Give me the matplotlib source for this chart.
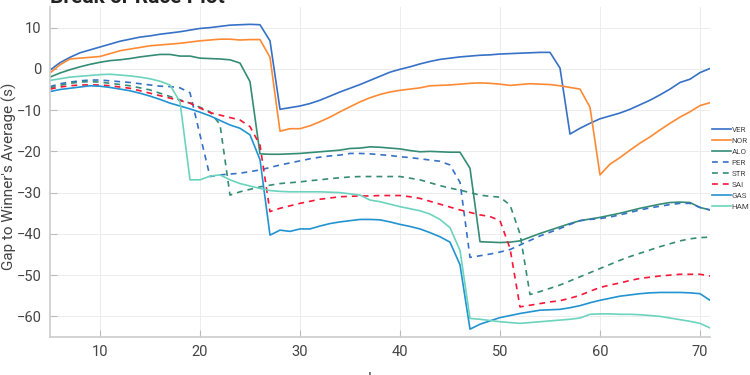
import matplotlib
matplotlib.use("Agg")
import matplotlib.pyplot as plt
import numpy as np

laps = list(range(5, 72))

VER = [-0.3, 1.5, 2.8, 3.9, 4.6, 5.3, 6.0, 6.7, 7.2, 7.7, 8.0, 8.4, 8.7, 9.0, 9.4, 9.8, 10.0, 10.3, 10.6, 10.7,
       10.8, 10.7, 6.8, -9.8, -9.4, -9.0, -8.4, -7.6, -6.6, -5.6, -4.7, -3.8, -2.8, -1.8, -0.8, -0.1, 0.5, 1.2,
       1.8, 2.3, 2.6, 2.9, 3.1, 3.3, 3.4, 3.6, 3.7, 3.8, 3.9, 4.0, 4.0, 0.2, -15.8, -14.4, -13.2, -12.1, -11.4,
       -10.7, -9.8, -8.7, -7.6, -6.3, -4.9, -3.3, -2.5, -0.9, 0.1]
NOR = [-1.0, 1.0, 2.4, 2.6, 2.8, 3.0, 3.7, 4.4, 4.8, 5.2, 5.6, 5.8, 6.0, 6.2, 6.5, 6.8, 7.0, 7.2, 7.2, 7.0,
       7.1, 7.1, 2.8, -15.1, -14.5, -14.5, -13.8, -12.8, -11.7, -10.4, -9.2, -8.0, -7.0, -6.2, -5.6, -5.2, -4.9,
       -4.6, -4.1, -4.0, -3.9, -3.7, -3.5, -3.4, -3.5, -3.7, -4.0, -3.8, -3.6, -3.7, -3.8, -4.1, -4.5, -4.9,
       -9.3, -25.7, -23.1, -21.5, -19.7, -18.0, -16.5, -14.8, -13.2, -11.7, -10.4, -8.9, -8.2]
ALO = [-2.0, -1.0, -0.2, 0.5, 1.1, 1.6, 2.0, 2.2, 2.5, 2.9, 3.2, 3.5, 3.5, 3.1, 3.1, 2.6, 2.5, 2.4, 2.2, 1.4,
       -3.1, -20.6, -20.7, -20.7, -20.6, -20.5, -20.3, -20.1, -19.9, -19.7, -19.3, -19.2, -18.9, -19.0, -19.2,
       -19.4, -19.8, -20.1, -20.0, -20.1, -20.2, -20.2, -24.1, -41.9, -42.0, -42.1, -42.0, -41.7, -40.8, -39.9,
       -39.1, -38.3, -37.5, -36.8, -36.4, -36.0, -35.5, -35.0, -34.4, -33.8, -33.3, -32.8, -32.4, -32.3, -32.4,
       -33.6, -34.2]
PER = [-4.3, -3.6, -3.2, -2.9, -2.7, -2.7, -2.9, -3.1, -3.3, -3.6, -3.9, -4.2, -4.3, -4.6, -5.8, -16.0, -26.1,
       -25.7, -25.5, -25.3, -24.9, -24.5, -23.9, -23.3, -22.8, -22.3, -21.8, -21.4, -21.1, -20.9, -20.5, -20.5,
       -20.6, -20.8, -21.0, -21.3, -21.5, -21.8, -22.1, -22.4, -23.3, -27.5, -45.7, -45.3, -44.9, -44.4, -43.8,
       -42.7, -41.6, -40.5, -39.6, -38.7, -37.7, -36.8, -36.5, -36.3, -35.9, -35.4, -34.8, -34.2, -33.7, -33.3,
       -32.9, -32.6, -32.6, -33.6, -34.2]
STR = [-4.6, -4.0, -3.5, -3.2, -3.1, -3.2, -3.5, -3.8, -4.1, -4.6, -5.1, -5.9, -6.7, -7.5, -8.3, -9.3, -10.4,
       -13.5, -30.6, -29.8, -29.2, -28.6, -28.2, -27.8, -27.6, -27.4, -27.1, -26.9, -26.6, -26.4, -26.2, -26.1,
       -26.1, -26.1, -26.1, -26.1, -26.5, -26.9, -27.6, -28.3, -28.9, -29.4, -30.0, -30.6, -30.9, -31.1, -33.0,
       -40.0, -54.7, -54.0, -53.2, -52.4, -51.4, -50.4, -49.4, -48.4, -47.4, -46.4, -45.5, -44.7, -43.9, -43.1,
       -42.4, -41.7, -41.2, -40.9, -40.8]
SAI = [-4.9, -4.4, -4.1, -3.9, -3.9, -3.9, -4.1, -4.4, -4.7, -5.3, -5.9, -6.5, -7.1, -7.7, -8.3, -9.5, -10.6,
       -11.2, -11.8, -12.4, -14.0, -18.5, -34.6, -33.8, -33.2, -32.6, -32.1, -31.6, -31.3, -31.0, -30.9, -30.8,
       -30.8, -30.7, -30.7, -30.7, -31.0, -31.4, -32.1, -32.8, -33.5, -34.2, -34.8, -35.4, -35.8, -36.8, -43.5,
       -57.7, -57.3, -56.9, -56.5, -56.2, -55.6, -54.9, -53.9, -53.0, -52.4, -51.9, -51.3, -50.8, -50.5, -50.2,
       -50.0, -49.8, -49.8, -49.8, -50.2]
GAS = [-5.5, -5.0, -4.7, -4.4, -4.1, -4.2, -4.5, -4.9, -5.3, -5.9, -6.6, -7.4, -8.3, -9.0, -9.7, -10.5, -11.4,
       -12.5, -13.6, -14.4, -16.0, -22.0, -40.3, -39.1, -39.4, -38.8, -38.8, -38.1, -37.5, -37.1, -36.8, -36.5,
       -36.5, -36.6, -37.1, -37.7, -38.2, -38.8, -39.7, -40.7, -42.0, -47.5, -63.1, -61.9, -61.1, -60.3, -59.8,
       -59.3, -58.9, -58.5, -58.4, -58.3, -57.9, -57.4, -56.7, -56.1, -55.6, -55.1, -54.8, -54.5, -54.3, -54.2,
       -54.2, -54.2, -54.3, -54.5, -56.1]
HAM = [-2.8, -2.4, -2.0, -1.8, -1.6, -1.4, -1.3, -1.5, -1.7, -2.0, -2.4, -3.0, -3.9, -8.0, -26.9, -26.9, -26.0,
       -25.7, -26.9, -27.8, -28.4, -29.0, -29.5, -29.7, -29.8, -29.8, -29.8, -29.8, -29.9, -30.0, -30.3, -30.6,
       -31.8, -32.2, -32.8, -33.4, -33.9, -34.4, -35.2, -36.5, -38.5, -44.0, -60.5, -60.7, -61.0, -61.3, -61.5,
       -61.7, -61.5, -61.3, -61.1, -60.9, -60.7, -60.4, -59.5, -59.4, -59.4, -59.5, -59.5, -59.6, -59.8, -60.0,
       -60.4, -60.8, -61.2, -61.7, -62.8]

drivers = ["VER", "NOR", "ALO", "PER", "STR", "SAI", "GAS", "HAM"]
series = [VER, NOR, ALO, PER, STR, SAI, GAS, HAM]
colors = ["#3671C6", "#FF8A33", "#358C75", "#3671C6", "#358C75", "#F91536", "#2293D1", "#6CD3BF"]
styles = ["-", "-", "-", "--", "--", "--", "-", "-"]

plt.rcParams['font.family'] = ['Roboto', 'DejaVu Sans']

fig = plt.figure(figsize=(7.5, 3.75), dpi=100)
ax = fig.add_axes([50/750, (375-337)/375, 660/750, 330/375])

for name, vals, c, ls in zip(drivers, series, colors, styles):
    kw = dict(dashes=(3.5, 3)) if ls == "--" else {}
    ax.plot(laps, vals, color=c, lw=1.2, linestyle=ls, label=name, **kw)

ax.set_xlim(5, 71)
ax.set_ylim(-65, 15)
ax.set_xticks(range(10, 71, 10))
ax.set_yticks(range(-60, 11, 10))
ax.grid(True, color="#ececec", lw=0.7)
ax.set_axisbelow(True)
for s in ["top", "right"]:
    ax.spines[s].set_visible(False)
for s in ["left", "bottom"]:
    ax.spines[s].set_color("#cccccc")
    ax.spines[s].set_linewidth(1.2)
ax.tick_params(direction="in", length=5, color="#bbbbbb", labelcolor="#444444", labelsize=10.5, pad=6)

fig.text(9/750, (375-176)/375, "Gap to Winner's Average (s)", rotation=90, ha="center", va="center",
         fontsize=11, color="#444444")
fig.text(380/750, 3.5/375, "Lap", ha="center", va="top", fontsize=11, color="#444444")
fig.text(50/750, (375-3)/375, "Break or Race Plot", ha="left", va="baseline",
         fontsize=15, fontweight="bold", color="#222222")

leg = fig.legend(loc="upper left", bbox_to_anchor=(712/750, (375-126)/375), frameon=False,
                 fontsize=5.8, handlelength=2.3, handletextpad=0.15, labelspacing=0.55,
                 borderaxespad=0, borderpad=0)
for t in leg.get_texts():
    t.set_color("#444444")

fig.savefig("out.png", dpi=100)
